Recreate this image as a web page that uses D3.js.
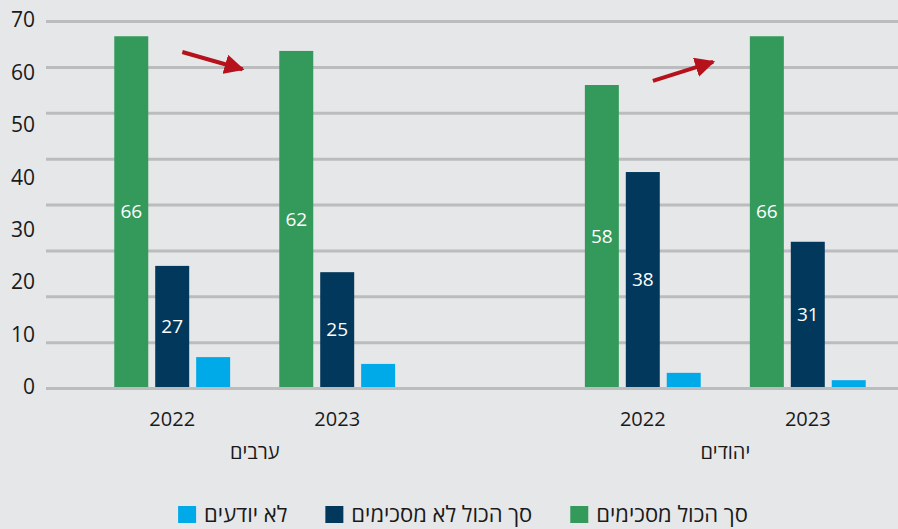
<!DOCTYPE html>
<html lang="he">
<head>
<meta charset="utf-8">
<script src="https://cdn.jsdelivr.net/npm/d3@7"></script>
<style>
  html, body { margin: 0; padding: 0; background: #e6e7e9; }
  svg { display: block; font-family: "Open Sans", "Liberation Sans", "DejaVu Sans", sans-serif; }
</style>
</head>
<body>
<svg id="chart" width="898" height="529"></svg>
<script>
// ---- data ----
const groups = ["ערבים", "יהודים"];
const years = ["2022", "2023"];
const seriesNames = ["סך הכול מסכימים", "סך הכול לא מסכימים", "לא יודעים"];
const seriesColors = ["#339a5c", "#01385b", "#00aae9"];
// bar heights as drawn (ערבים 2022, ערבים 2023, יהודים 2022, יהודים 2023)
const agree    = [66.9, 64.1, 57.6, 66.9];
const disagree = [23.1, 21.9, 41.0, 27.7];
const dontKnow = [5.7, 4.4, 2.7, 1.3];
// printed value labels
const agreeLabels    = ["66", "62", "58", "66"];
const disagreeLabels = ["27", "25", "38", "31"];
const dontKnowLabels = ["", "", "", ""];
const yTicks = [0, 10, 20, 30, 40, 50, 60, 70];
// trend arrows (value at start and end, between the two green bars)
const arrows = [
  { group: "ערבים", from: 63.9, to: 60.6 },
  { group: "יהודים", from: 58.4, to: 62.0 }
];

// ---- layout ----
const svg = d3.select("#chart");
const gridLeft = 46, gridRight = 898;

const y = d3.scaleLinear().domain([0, 70]).range([387, 20]);
const x0 = d3.scalePoint().domain(groups).range([90, 890]).padding(0.35);
const x1 = d3.scaleBand().domain(years).range([-165, 165]);
const x2 = d3.scaleBand().domain(seriesNames).range([0, x1.bandwidth()])
  .paddingInner(0.17).paddingOuter(0.6);

const rows = [];
groups.forEach((g, gi) => years.forEach((yr, yi) => {
  const i = gi * 2 + yi;
  rows.push({ g, yr, vals: [agree[i], disagree[i], dontKnow[i]],
              labels: [agreeLabels[i], disagreeLabels[i], dontKnowLabels[i]] });
}));

// gridlines: 9 evenly spaced lines spanning the value range
const gridVals = d3.range(9).map(i => i * 70 / 8);
svg.append("g").selectAll("line").data(gridVals).join("line")
  .attr("x1", gridLeft).attr("x2", gridRight)
  .attr("y1", d => y(d) + 1.5).attr("y2", d => y(d) + 1.5)
  .attr("stroke", "#bbbcbe").attr("stroke-width", 3);

// y axis labels
const yAxis = svg.append("g").attr("transform", "translate(35,0)")
  .call(d3.axisLeft(y).tickValues(yTicks).tickSize(0).tickPadding(0));
yAxis.select(".domain").remove();
yAxis.selectAll("text").attr("font-size", 21).attr("fill", "#1a1a1a")
  .attr("font-family", "\"Open Sans\", \"Liberation Sans\", sans-serif");

// bars
const gBars = svg.append("g");
rows.forEach(r => {
  const gx = x0(r.g) + x1(r.yr);
  r.vals.forEach((v, si) => {
    const bx = gx + x2(seriesNames[si]);
    gBars.append("rect")
      .attr("x", bx).attr("y", y(v))
      .attr("width", x2.bandwidth()).attr("height", y(0) - y(v))
      .attr("fill", seriesColors[si]);
    if (r.labels[si]) {
      gBars.append("text")
        .attr("x", bx + x2.bandwidth() / 2)
        .attr("y", (y(v) + y(0)) / 2)
        .attr("dy", "0.35em")
        .attr("text-anchor", "middle")
        .attr("font-size", 19).attr("font-weight", 500).attr("fill", "#ffffff")
        .text(r.labels[si]);
    }
  });
  // year label
  svg.append("text")
    .attr("x", gx + x1.bandwidth() / 2).attr("y", 419)
    .attr("dy", "0.35em").attr("text-anchor", "middle")
    .attr("font-size", 20).attr("fill", "#1a1a1a")
    .text(r.yr);
});

// group labels
svg.append("g").selectAll("text").data(groups).join("text")
  .attr("x", d => x0(d)).attr("y", 452).attr("dy", "0.35em")
  .attr("text-anchor", "middle").attr("font-size", 20).attr("fill", "#1a1a1a")
  .text(d => d);

// arrows
const defs = svg.append("defs");
defs.append("marker").attr("id", "ah").attr("viewBox", "0 0 10 10")
  .attr("refX", 9).attr("refY", 5).attr("markerWidth", 5).attr("markerHeight", 5)
  .attr("orient", "auto").attr("markerUnits", "strokeWidth")
  .append("path").attr("d", "M0,0L10,5L0,10Z").attr("fill", "#b5121b");
arrows.forEach(a => {
  const gx = x0(a.group);
  const leftEdge = gx + x1(years[0]) + x2(seriesNames[0]) + x2.bandwidth();
  const rightEdge = gx + x1(years[1]) + x2(seriesNames[0]);
  const xs = leftEdge + (rightEdge - leftEdge) * 0.26;
  const xe = leftEdge + (rightEdge - leftEdge) * 0.72;
  svg.append("line")
    .attr("x1", xs).attr("y1", y(a.from)).attr("x2", xe).attr("y2", y(a.to))
    .attr("stroke", "#b5121b").attr("stroke-width", 4)
    .attr("marker-end", "url(#ah)");
});

// legend
const legend = svg.append("g");
const legendOrder = [2, 1, 0];
let cx = 0;
const legendGap = 38;
legendOrder.forEach(si => {
  const it = legend.append("g");
  it.append("rect").attr("x", 0).attr("y", -8).attr("width", 18).attr("height", 17)
    .attr("fill", seriesColors[si]);
  const t = it.append("text").attr("x", 26).attr("y", 0).attr("dy", "0.35em")
    .attr("font-size", 22).attr("fill", "#1a1a1a").text(seriesNames[si]);
  const w = 26 + t.node().getComputedTextLength();
  it.attr("transform", `translate(${cx},0)`);
  cx += w + legendGap;
});
const totalW = cx - legendGap;
legend.attr("transform", `translate(${463 - totalW / 2},514)`);
</script>
</body>
</html>
